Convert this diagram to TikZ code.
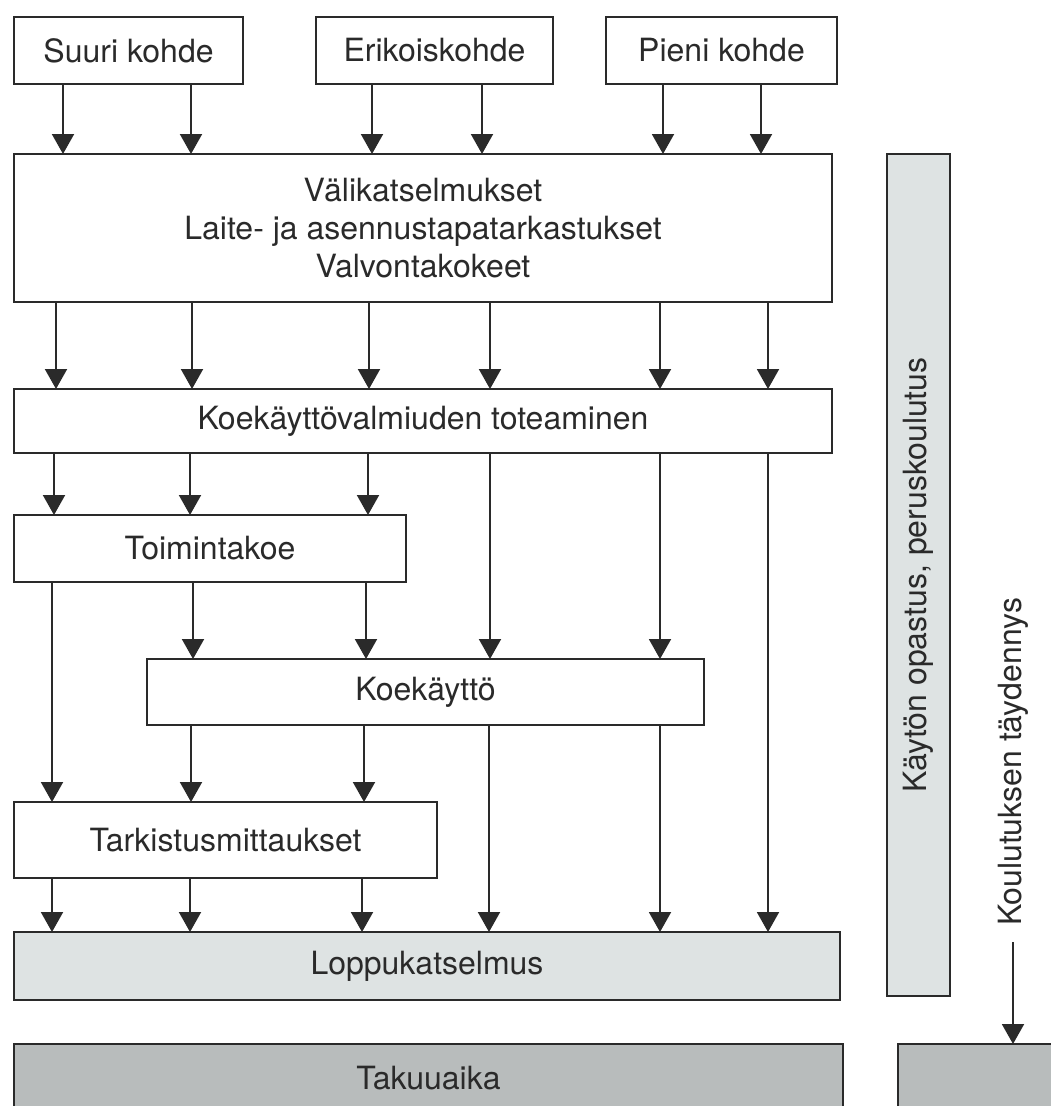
\documentclass[tikz,border=0pt]{standalone}
\usepackage{fontspec}
\setmainfont{TeX Gyre Heros}
\usetikzlibrary{arrows.meta}
\definecolor{lightfill}{HTML}{DEE3E3}
\definecolor{darkfill}{HTML}{B8BCBC}
\definecolor{ink}{HTML}{2A2A2A}
\begin{document}
\begin{tikzpicture}[x=1pt,y=-1pt,
  box/.style={draw=ink, line width=2.5pt, inner sep=0pt, outer sep=0pt, text=ink,
    font=\fontsize{32}{38}\selectfont, align=center},
  arr/.style={draw=ink, line width=2pt, -{Triangle[width=22pt,length=20pt]}},
  lbl/.style={text=ink, font=\fontsize{32}{38}\selectfont, inner sep=0pt}]
\useasboundingbox (0,0) rectangle (1051,1106);
\clip (0,0) rectangle (1051,1106);
\fill[white] (0,0) rectangle (1051,1106);

% boxes
\node[box, minimum width=229, minimum height=67] (suuri) at (128.5,50.5) {Suuri kohde};
\node[box, minimum width=237, minimum height=67] (eriko) at (434.5,50.5) {Erikoiskohde};
\node[box, minimum width=231, minimum height=67] (pieni) at (721.5,50.5) {Pieni kohde};
\node[box, minimum width=818, minimum height=148] (vali) at (423,228)
  {Välikatselmukset\\Laite- ja asennustapatarkastukset\\Valvontakokeet};
\node[box, minimum width=818, minimum height=64] (koe) at (423,421) {Koekäyttövalmiuden toteaminen};
\node[box, minimum width=392, minimum height=67] (toim) at (210,548.5) {Toimintakoe};
\node[box, minimum width=557, minimum height=66] (kk) at (425.5,692) {Koekäyttö};
\node[box, minimum width=423, minimum height=76] (tark) at (225.5,840) {Tarkistusmittaukset};
\node[box, fill=lightfill, minimum width=826, minimum height=68] (lopp) at (427,966) {Loppukatselmus};
\node[box, fill=darkfill, minimum width=829, minimum height=68] (taku) at (428.5,1078) {Takuuaika};
\node[box, fill=lightfill, rotate=90, minimum width=842, minimum height=63] (bar) at (918.5,575)
  {Käytön opastus, peruskoulutus};
\node[box, fill=darkfill, minimum width=162, minimum height=68] (small) at (979,1078) {};
\node[lbl, rotate=90, anchor=west] (kt) at (1013,926) {Koulutuksen täydennys};

% connectors
\foreach \x in {63,191} \draw[arr] (suuri.south -| \x,0) -- (vali.north -| \x,0);
\foreach \x in {372,482} \draw[arr] (eriko.south -| \x,0) -- (vali.north -| \x,0);
\foreach \x in {663,761} \draw[arr] (pieni.south -| \x,0) -- (vali.north -| \x,0);
\foreach \x in {56,192,369,490,660,768} \draw[arr] (vali.south -| \x,0) -- (koe.north -| \x,0);
\foreach \x in {54,190,368} \draw[arr] (koe.south -| \x,0) -- (toim.north -| \x,0);
\foreach \x in {490,660} \draw[arr] (koe.south -| \x,0) -- (kk.north -| \x,0);
\draw[arr] (koe.south -| 768,0) -- (lopp.north -| 768,0);
\draw[arr] (toim.south -| 52,0) -- (tark.north -| 52,0);
\foreach \x in {193,366} \draw[arr] (toim.south -| \x,0) -- (kk.north -| \x,0);
\foreach \x in {191,364} \draw[arr] (kk.south -| \x,0) -- (tark.north -| \x,0);
\foreach \x in {489,660} \draw[arr] (kk.south -| \x,0) -- (lopp.north -| \x,0);
\foreach \x in {52,190,362} \draw[arr] (tark.south -| \x,0) -- (lopp.north -| \x,0);
\draw[arr] (kt.west) ++(0,16) -- (small.north -| kt.west);
\end{tikzpicture}
\end{document}
